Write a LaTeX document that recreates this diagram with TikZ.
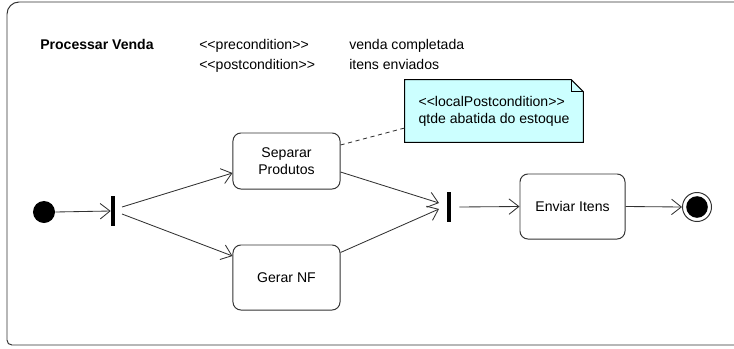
\documentclass[tikz,border=0pt]{standalone}
\usepackage{fontspec}
\setmainfont{Liberation Sans}
\usepackage{tikz}
\usetikzlibrary{arrows.meta,positioning,calc}

\definecolor{notefill}{RGB}{204,255,255}
\definecolor{linegray}{RGB}{50,50,50}

\begin{document}
\begin{tikzpicture}[x=0.025cm,y=-0.025cm,
    font=\fontsize{10}{12}\selectfont,
    activity/.style={draw=linegray, line width=0.7pt, rounded corners=0.2cm, align=center, minimum width=2.675cm},
    syncbar/.style={fill=black, inner sep=0pt, minimum width=0.1cm, minimum height=0.75cm},
    label/.style={anchor=base west, inner sep=0pt},
    flow/.style={draw=linegray, line width=0.6pt, -{Straight Barb[length=7pt,width=11pt]}}]
    \useasboundingbox (0,0) rectangle (734,348);

    % Frame
    \draw[linegray, line width=0.7pt, rounded corners=0.3cm] (745,2) -- (7,2)
        [rounded corners=0.12cm] -- (7,345) -- (745,345);

    % Header
    \node[label, font=\fontsize{10}{12}\selectfont\bfseries] (title) at (40,50) {Processar Venda};
    \node[label] (pre) at (199,50) {<{}<precondition>{}>};
    \node[label] (post) at (199,70) {<{}<postcondition>{}>};
    \node[label] (preval) at (349,50) {venda completada};
    \node[label] (postval) at (349,70) {itens enviados};

    % Nodes
    \node[circle, fill=black, inner sep=0pt, minimum size=0.55cm] (init) at (44,212) {};
    \node[syncbar] (fork) at (113,211) {};
    \node[activity, minimum height=1.4cm] (sep) at (286.5,161) {Separar\\Produtos};
    \node[activity, minimum height=1.625cm] (nf) at (286.5,277.5) {Gerar NF};
    \node[syncbar] (join) at (449,207) {};
    \node[activity, minimum width=2.625cm, minimum height=1.625cm] (env) at (572.5,206.5) {Enviar Itens};
    \node[circle, draw=linegray, line width=0.7pt, inner sep=0pt, minimum size=0.725cm] (final) at (697,207) {};
    \fill (final.center) circle (0.27cm);

    % Note
    \node[fill=notefill, inner sep=0pt, align=left, minimum width=4.45cm,
          minimum height=1.55cm] (note) at (494,111)
          {<{}<localPostcondition>{}>\\qtde abatida do estoque};
    \fill[white] ([shift={(-12,0)}]note.north east) -- (note.north east) -- ([shift={(0,12)}]note.north east) -- cycle;
    \draw[black, line width=0.7pt] (note.south west) -- (note.north west) -- ([shift={(-12,0)}]note.north east)
        -- ([shift={(0,12)}]note.north east) -- (note.south east) -- cycle;
    \draw[black, line width=0.5pt] ([shift={(-12,0)}]note.north east) -- ([shift={(-12,12)}]note.north east)
        -- ([shift={(0,12)}]note.north east);
    \draw[linegray, line width=0.6pt, dash pattern=on 3pt off 2.5pt] ([shift={(0,-16)}]sep.east) -- ([shift={(0,17)}]note.west);

    % Flows
    \draw[flow] (init.east) -- (fork.west);
    \draw[flow] ([shift={(9,-4)}]fork.center) -- ([shift={(0,12)}]sep.west);
    \draw[flow] ([shift={(9,3)}]fork.center) -- ([shift={(0,-21.5)}]nf.west);
    \draw[flow] ([shift={(0,11)}]sep.east) -- ([shift={(-10,-4)}]join.center);
    \draw[flow] ([shift={(0,-25)}]nf.east) -- ([shift={(-10,2)}]join.center);
    \draw[flow] ([shift={(8,0)}]join.east) -- (env.west);
    \draw[flow] (env.east) -- (final.west);
\end{tikzpicture}
\end{document}
